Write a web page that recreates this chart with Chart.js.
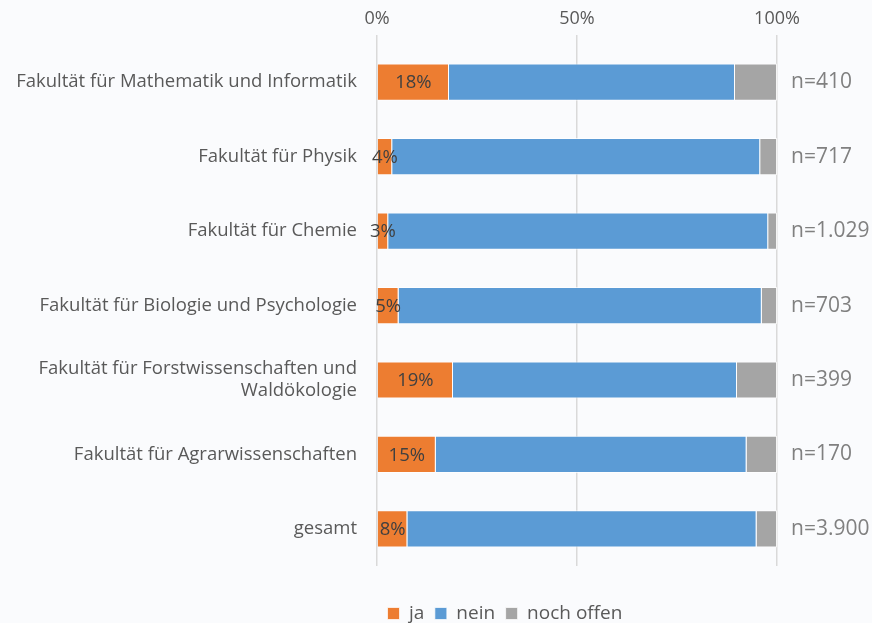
<!DOCTYPE html>
<html>
<head>
<meta charset="utf-8">
<script src="https://cdn.jsdelivr.net/npm/chart.js@4/dist/chart.umd.min.js"></script>
<style>
  html, body { margin: 0; padding: 0; background: #fafbfd; }
  #wrap { width: 872px; height: 623px; }
</style>
</head>
<body>
<div id="wrap"><canvas id="chart"></canvas></div>
<script>
// Kategorien (Fakultäten)
const kategorien = [
  "Fakultät für Mathematik und Informatik",
  "Fakultät für Physik",
  "Fakultät für Chemie",
  "Fakultät für Biologie und Psychologie",
  ["Fakultät für Forstwissenschaften und", "Waldökologie"],
  "Fakultät für Agrarwissenschaften",
  "gesamt",
];
const nWerte = ["n=410", "n=717", "n=1.029", "n=703", "n=399", "n=170", "n=3.900"];

// Anteile in Prozent
const ja = [18, 3.8, 2.8, 5.4, 19, 14.7, 7.6];
const nein = [71.5, 92, 95, 90.8, 71, 77.7, 87.3];
const nochOffen = [10.5, 4.2, 2.2, 3.8, 10, 7.6, 5.1];

const schrift = "'Open Sans', Lato, sans-serif";

// Prozentwerte in die orangen Balken schreiben
const jaLabels = {
  id: "jaLabels",
  afterDatasetsDraw(chart) {
    const ctx = chart.ctx;
    const meta = chart.getDatasetMeta(0);
    ctx.save();
    ctx.font = "18.5px " + schrift;
    ctx.fillStyle = "#404040";
    ctx.textAlign = "center";
    ctx.textBaseline = "middle";
    meta.data.forEach((bar, i) => {
      const p = bar.getCenterPoint();
      ctx.fillText(Math.round(ja[i]) + "%", p.x, p.y + 1);
    });
    ctx.restore();
  },
};

new Chart(document.getElementById("chart"), {
  type: "bar",
  data: {
    labels: kategorien,
    datasets: [
      { label: "ja", data: ja, backgroundColor: "#ED7D31" },
      { label: "nein", data: nein, backgroundColor: "#5B9BD5" },
      { label: "noch offen", data: nochOffen, backgroundColor: "#A5A5A5" },
    ].map((d) => ({
      ...d,
      borderColor: "rgba(255,255,255,0.7)",
      borderWidth: 1,
      barPercentage: 0.5,
      categoryPercentage: 1,
    })),
  },
  options: {
    indexAxis: "y",
    responsive: true,
    maintainAspectRatio: false,
    animation: false,
    layout: { padding: { top: 0, left: 0, right: 0, bottom: -10 } },
    scales: {
      x: {
        position: "top",
        stacked: true,
        min: 0,
        max: 100,
        ticks: {
          stepSize: 50,
          callback: (v) => v + "%",
          color: "#595959",
          font: { family: schrift, size: 18 },
          padding: 5,
        },
        grid: { color: "#d9d9d9", lineWidth: 1.5, tickLength: 10 },
        border: { display: false },
        afterFit: (axis) => { axis.height = 45; },
      },
      y: {
        stacked: true,
        ticks: {
          color: "#595959",
          font: { family: schrift, size: 18.5 },
          padding: 20,
        },
        grid: { display: false, drawTicks: false },
        border: { display: false },
        afterFit: (axis) => { axis.width = 377; },
      },
      n: {
        type: "category",
        position: "right",
        labels: nWerte,
        offset: true,
        ticks: {
          color: "#808080",
          font: { family: schrift, size: 21 },
          padding: 14,
        },
        grid: { display: false, drawTicks: false },
        border: { display: false },
        afterFit: (axis) => { axis.width = 95; },
      },
    },
    plugins: {
      legend: {
        position: "bottom",
        align: "start",
        fullSize: false,
        title: { display: true, text: "", padding: { top: 0, bottom: 13 } },
        labels: {
          boxWidth: 12,
          boxHeight: 12,
          padding: 10.5,
          color: "#595959",
          font: { family: schrift, size: 19 },
        },
      },
      tooltip: { enabled: false },
    },
  },
  plugins: [jaLabels],
});
</script>
</body>
</html>
